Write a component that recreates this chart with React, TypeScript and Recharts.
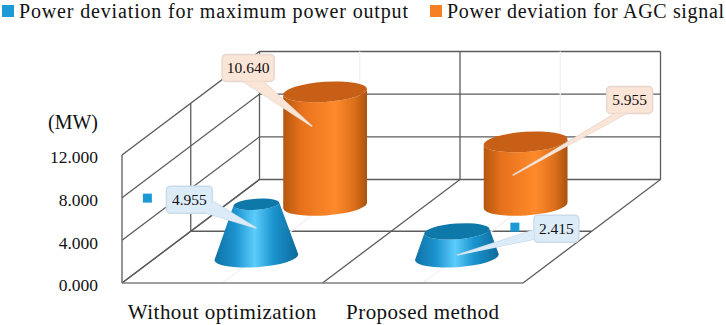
import React from "react"
import { BarChart, Bar, XAxis, YAxis, CartesianGrid, Legend, LabelList, Label } from "recharts"

const categories = ["Without optimization", "Proposed method"]
const maxPowerDeviation = [4.955, 2.415]
const agcDeviation = [10.64, 5.955]
const yTicks = [0, 4, 8, 12]
const gridValues = [0, 2, 4, 6, 8, 10, 12]
const seriesNames = ["Power deviation for maximum power output", "Power deviation for AGC signal"]

const chartData = categories.map((name, i) => ({
  name,
  maxPower: maxPowerDeviation[i],
  agc: agcDeviation[i],
}))

// oblique projection of the 3D box
const DEPTH_X = 137.5
const DEPTH_Y = 103.5
const BLUE_ROW = 0.25
const ORANGE_ROW = 0.75
const TILT = (4 * Math.PI) / 180
const SQUASH = 0.24
const SERIF = "'Liberation Serif', serif"
const LINE = "#5c5c5c"
const FAINT = "#f1f1f1"

// callout boxes, offsets from the foot of each bar
const orangeCallouts = [
  { box: [-103, -151, 52, 27], tip: [-13, -79], base: [[-82, -124], [-62, -124]] },
  { box: [81, -119, 46, 27], tip: [-13, -30], base: [[90, -92], [101, -92]] },
]
const blueCallouts = [
  { box: [-90, -71, 46, 27], tip: [0, -29], base: [[-44, -56], [-50, -44]] },
  { box: [77, -42, 45, 27], tip: [0, -2], base: [[77, -27], [77, -18]] },
]
const strayMarkers = [[-109, -59], [58, -30]]

function ellipseEnds(cx: number, cy: number, r: number) {
  return {
    lx: cx - r * Math.cos(TILT),
    ly: cy + r * Math.sin(TILT),
    rx: cx + r * Math.cos(TILT),
    ry: cy - r * Math.sin(TILT),
  }
}

function Solid(props: any) {
  const { x, y, width, height, index, row, taper, body, cap, markers } = props
  const cx = x + width / 2 + row * DEPTH_X
  const footY = y + height - row * DEPTH_Y
  const topY = y - row * DEPTH_Y
  const r = width / 2
  const topR = r - height * taper
  const foot = ellipseEnds(cx, footY, r)
  const top = ellipseEnds(cx, topY, topR)
  const d = [
    `M${top.lx},${top.ly}`,
    `L${foot.lx},${foot.ly}`,
    `A${r},${r * SQUASH} -4 0 0 ${foot.rx},${foot.ry}`,
    `L${top.rx},${top.ry}`,
    `A${topR},${topR * SQUASH} -4 0 1 ${top.lx},${top.ly}`,
    "Z",
  ].join(" ")
  const marker = markers ? markers[index] : null
  return (
    <g>
      {marker && <rect x={cx + marker[0] - 4.5} y={footY + marker[1] - 4.5} width={9} height={9} fill="#1b9ad6" />}
      <path d={d} fill={body} />
      <ellipse cx={cx} cy={topY} rx={topR} ry={topR * SQUASH} fill={cap} transform={`rotate(-4 ${cx} ${topY})`} />
    </g>
  )
}

function makeCallout(row: number, layout: any[], fill: string, edge: string) {
  return function Callout(props: any) {
    const vb = props.viewBox ?? props
    const { x, y, width, height } = vb
    const c = layout[props.index]
    const cx = x + width / 2 + row * DEPTH_X
    const cy = y + height - row * DEPTH_Y
    const [bx, by, bw, bh] = c.box
    const pts = [c.base[0], c.tip, c.base[1]].map((p: number[]) => `${cx + p[0]},${cy + p[1]}`).join(" ")
    return (
      <g>
        <polygon points={pts} fill={fill} stroke={edge} strokeWidth={1.5} />
        <rect x={cx + bx} y={cy + by} width={bw} height={bh} rx={4} fill={fill} stroke={edge} strokeWidth={1.5} />
        <polygon points={pts} fill={fill} />
        <text
          x={cx + bx + bw / 2}
          y={cy + by + bh / 2 + 5}
          textAnchor="middle"
          fontFamily={SERIF}
          fontSize={15.5}
          fill="#111"
        >
          {Number(props.value).toFixed(3)}
        </text>
      </g>
    )
  }
}

function WallLine(props: any) {
  const { x1, x2, y1, y, height } = props
  const major = Math.round(((y1 - y) / height) * 6) % 2 === 0
  return (
    <polyline
      key={props.key ?? `h-${y1}`}
      points={`${x1},${y1} ${x1 + DEPTH_X},${y1 - DEPTH_Y} ${x2 + DEPTH_X},${y1 - DEPTH_Y}`}
      fill="none"
      stroke={major ? LINE : FAINT}
      strokeWidth={1.3}
    />
  )
}

function FloorLine(props: any) {
  const { x1, y1, y2, x, width } = props
  const step = Math.round(((x1 - x) / width) * 4)
  const midX = x1 + DEPTH_X / 2
  const midY = y2 - DEPTH_Y / 2
  return (
    <g key={props.key ?? `v-${x1}`} fill="none" strokeWidth={1.3}>
      <polyline
        points={`${x1},${y2} ${x1 + DEPTH_X},${y2 - DEPTH_Y} ${x1 + DEPTH_X},${y1 - DEPTH_Y}`}
        stroke={step % 2 === 0 ? LINE : FAINT}
      />
      {step === 0 && (
        <>
          <line x1={midX} y1={midY} x2={midX} y2={y1 - DEPTH_Y / 2} stroke={LINE} />
          <line x1={midX} y1={midY} x2={midX + width} y2={midY} stroke={LINE} />
        </>
      )}
    </g>
  )
}

function LegendRow({ payload }: any) {
  const starts = [2, 430]
  const textWidths = [389, 277]
  return (
    <svg width={726} height={24} style={{ display: "block" }}>
      {seriesNames.map((name, i) => {
        const item = (payload ?? []).find((p: any) => p.value === name)
        return (
          <g key={name}>
            <rect x={starts[i]} y={5} width={12} height={12} fill={item?.color} />
            <text
              x={starts[i] + 17}
              y={18}
              fontFamily={SERIF}
              fontSize={20}
              fill="#111"
              textLength={textWidths[i]}
              lengthAdjust="spacing"
            >
              {name}
            </text>
          </g>
        )
      })}
    </svg>
  )
}

export default function App() {
  return (
    <div style={{ position: "absolute", left: 0, top: 0, width: 726, height: 325 }}>
      <BarChart
        width={726}
        height={325}
        data={chartData}
        margin={{ top: 131, right: 203, bottom: 2, left: 62 }}
        barSize={84}
        barGap={-84}
      >
        <defs>
          <linearGradient id="orangeBody" x1="0" y1="0" x2="1" y2="0">
            <stop offset="0%" stopColor="#b4570f" />
            <stop offset="22%" stopColor="#e8721c" />
            <stop offset="62%" stopColor="#ff8a2b" />
            <stop offset="85%" stopColor="#dc6f1b" />
            <stop offset="100%" stopColor="#a9520f" />
          </linearGradient>
          <linearGradient id="blueBody" x1="0" y1="0" x2="1" y2="0">
            <stop offset="0%" stopColor="#0f72a5" />
            <stop offset="25%" stopColor="#1c93cf" />
            <stop offset="48%" stopColor="#5ccdfb" />
            <stop offset="70%" stopColor="#1b94cf" />
            <stop offset="100%" stopColor="#0d6a9a" />
          </linearGradient>
        </defs>
        <CartesianGrid
          horizontalValues={gridValues}
          verticalCoordinatesGenerator={({ offset }: any) =>
            [0, 0.25, 0.5, 0.75, 1].map((f) => offset.left + f * offset.width)
          }
          horizontal={(p: any) => <WallLine {...p} />}
          vertical={(p: any) => <FloorLine {...p} />}
        />
        <XAxis
          dataKey="name"
          height={40}
          axisLine={{ stroke: "#7f7f7f", strokeWidth: 1.5 }}
          tickLine={false}
          tickMargin={15}
          tick={{ fontFamily: SERIF, fontSize: 21, fill: "#111", letterSpacing: 0.47 }}
        />
        <YAxis
          width={60}
          domain={[0, 12]}
          ticks={yTicks}
          axisLine={{ stroke: LINE, strokeWidth: 1.3 }}
          tickLine={false}
          tickSize={0}
          tickMargin={24}
          tickFormatter={(v: number) => v.toFixed(3)}
          tick={{ fontFamily: SERIF, fontSize: 17.5, fill: "#111", dy: 2 }}
        >
          <Label
            value="(MW)"
            position="top"
            dx={-19}
            dy={-21}
            style={{ fontFamily: SERIF, fontSize: 20, fill: "#111" }}
          />
        </YAxis>
        <Legend verticalAlign="top" height={24} wrapperStyle={{ left: 0, top: 0, width: 726 }} content={<LegendRow />} />
        <Bar
          dataKey="agc"
          name={seriesNames[1]}
          fill="#f57f22"
          isAnimationActive={false}
          shape={(p: any) => <Solid {...p} row={ORANGE_ROW} taper={0} body="url(#orangeBody)" cap="#c75f17" />}
        >
          <LabelList dataKey="agc" content={makeCallout(ORANGE_ROW, orangeCallouts, "#fbe5d6", "#e6d8ce")} />
        </Bar>
        <Bar
          dataKey="maxPower"
          name={seriesNames[0]}
          fill="#1b9ad6"
          isAnimationActive={false}
          shape={(p: any) => (
            <Solid {...p} row={BLUE_ROW} taper={0.36} body="url(#blueBody)" cap="#0e79a8" markers={strayMarkers} />
          )}
        >
          <LabelList dataKey="maxPower" content={makeCallout(BLUE_ROW, blueCallouts, "#dcebf8", "#cbdbe8")} />
        </Bar>
      </BarChart>
    </div>
  )
}
